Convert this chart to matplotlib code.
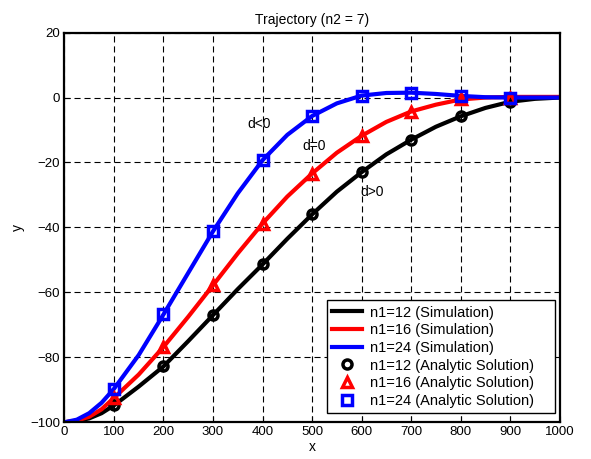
import matplotlib
matplotlib.use("Agg")
import matplotlib.pyplot as plt

plt.rcParams['font.family'] = ['Liberation Sans', 'DejaVu Sans']

# simulation curves
x_sim = [0, 25, 50, 75, 100, 150, 200, 250, 300, 350, 400, 450, 500,
         550, 600, 650, 700, 750, 800, 850, 900, 950, 1000]
y_sim12 = [-100, -99.6, -98.8, -97.2, -94.8, -89, -82.8, -75, -67, -59, -51.4, -43.5, -36,
           -29, -23, -17.5, -13, -9, -5.8, -3.2, -1.3, -0.4, 0]
y_sim16 = [-100, -99.5, -98.3, -96, -92.5, -85.3, -76.8, -67.5, -57.8, -48, -38.8, -30.5, -23.4,
           -17, -11.8, -7.5, -4.3, -2.2, -0.6, 0, 0.2, 0.2, 0.2]
y_sim24 = [-100, -99.2, -97.2, -94, -89.7, -79.3, -66.8, -54, -41.2, -29.5, -19.3, -11.5, -5.7,
           -1.8, 0.6, 1.4, 1.5, 1.1, 0.5, 0.1, 0, 0, 0]

# analytic solution points
x_ana = [100, 200, 300, 400, 500, 600, 700, 800, 900]
y_ana12 = [-94.8, -82.8, -67, -51.4, -36, -23, -13.2, -5.8, -1.3]
y_ana16 = [-92.5, -76.8, -57.8, -38.8, -23.4, -11.8, -4.3, -0.5, 0]
y_ana24 = [-89.7, -66.8, -41.2, -19.3, -5.7, 0.6, 1.5, 0.5, 0]

fig = plt.figure(figsize=(5.91, 4.59), dpi=100)
ax = fig.add_axes([0.109, 0.080, 0.838, 0.849])

# trailing spaces give the wide right margin of the original legend box
ax.plot(x_sim, y_sim12, color='black', lw=3, label='n1=12 (Simulation)')
ax.plot(x_sim, y_sim16, color='red', lw=3, label='n1=16 (Simulation)')
ax.plot(x_sim, y_sim24, color='blue', lw=3, label='n1=24 (Simulation)')
ax.plot(x_ana, y_ana12, 'o', color='black', mfc='none', ms=6.5, mew=2.5,
        label='n1=12 (Analytic Solution)')
ax.plot(x_ana, y_ana16, '^', color='red', mfc='none', ms=7.5, mew=2.5,
        label='n1=16 (Analytic Solution)')
ax.plot(x_ana, y_ana24, 's', color='blue', mfc='none', ms=6.5, mew=2.5,
        label='n1=24 (Analytic Solution)    ')

ax.text(393, -8, 'd<0', fontsize=10, ha='center', va='center')
ax.text(505, -15, 'd=0', fontsize=10, ha='center', va='center')
ax.text(621, -29.2, 'd>0', fontsize=10, ha='center', va='center')

ax.set_xlim(0, 1000)
ax.set_ylim(-100, 20)
ax.set_xticks(range(0, 1001, 100))
ax.set_yticks(range(-100, 21, 20))
ax.tick_params(direction='in', labelsize=9.5, length=4, pad=3)
ax.grid(True, color='black', linestyle=(0, (5.5, 3.5)), linewidth=0.8)
for s in ax.spines.values():
    s.set_linewidth(1.6)

ax.set_title('Trajectory (n2 = 7)', fontsize=10)
ax.set_xlabel('x', fontsize=10, labelpad=1)
ax.set_ylabel('y', fontsize=10)

leg = ax.legend(loc='lower right', bbox_to_anchor=(0.991, 0.024), fontsize=10.5,
                fancybox=False, framealpha=1, edgecolor='black',
                handlelength=2.0, handletextpad=0.55, borderpad=0.35,
                labelspacing=0.25, borderaxespad=0)
leg.get_frame().set_linewidth(1.0)

fig.savefig('out.png', dpi=100)
